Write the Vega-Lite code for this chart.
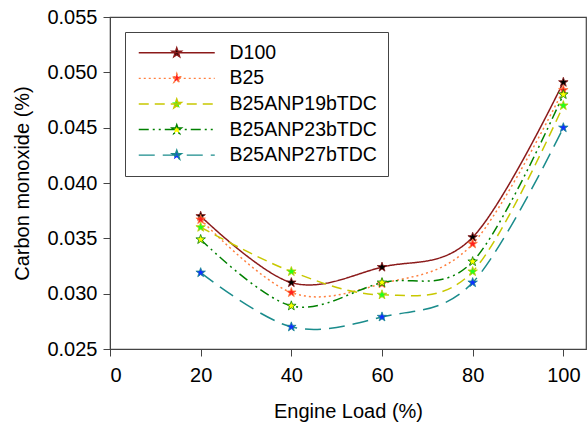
{
  "$schema": "https://vega.github.io/schema/vega-lite/v6.json",
  "width": 476,
  "height": 332,
  "autosize": "none",
  "padding": {"left": 110, "top": 17, "right": 1, "bottom": 74},
  "background": "white",
  "config": {
    "font": "Liberation Sans",
    "view": {"stroke": "#444", "strokeWidth": 1.2},
    "axis": {"grid": false, "domainColor": "#444", "tickColor": "#444", "labelColor": "black", "titleColor": "black", "labelFontSize": 20, "titleFontSize": 20, "titleFontWeight": "normal", "tickSize": 7, "labelFont": "Liberation Sans", "titleFont": "Liberation Sans"}
  },
  "data": {
    "values": [
      {"series": "D100", "load": 20, "co": 0.0370},
      {"series": "D100", "load": 40, "co": 0.0310},
      {"series": "D100", "load": 60, "co": 0.0324},
      {"series": "D100", "load": 80, "co": 0.0351},
      {"series": "D100", "load": 100, "co": 0.0491},
      {"series": "B25", "load": 20, "co": 0.0367},
      {"series": "B25", "load": 40, "co": 0.0301},
      {"series": "B25", "load": 60, "co": 0.0309},
      {"series": "B25", "load": 80, "co": 0.0345},
      {"series": "B25", "load": 100, "co": 0.0484},
      {"series": "B25ANP19bTDC", "load": 20, "co": 0.0360},
      {"series": "B25ANP19bTDC", "load": 40, "co": 0.0320},
      {"series": "B25ANP19bTDC", "load": 60, "co": 0.0299},
      {"series": "B25ANP19bTDC", "load": 80, "co": 0.0320},
      {"series": "B25ANP19bTDC", "load": 100, "co": 0.0470},
      {"series": "B25ANP23bTDC", "load": 20, "co": 0.0349},
      {"series": "B25ANP23bTDC", "load": 40, "co": 0.0289},
      {"series": "B25ANP23bTDC", "load": 60, "co": 0.0310},
      {"series": "B25ANP23bTDC", "load": 80, "co": 0.0329},
      {"series": "B25ANP23bTDC", "load": 100, "co": 0.0480},
      {"series": "B25ANP27bTDC", "load": 20, "co": 0.0319},
      {"series": "B25ANP27bTDC", "load": 40, "co": 0.0270},
      {"series": "B25ANP27bTDC", "load": 60, "co": 0.0279},
      {"series": "B25ANP27bTDC", "load": 80, "co": 0.0310},
      {"series": "B25ANP27bTDC", "load": 100, "co": 0.0450}
    ]
  },
  "encoding": {
    "x": {"field": "load", "type": "quantitative", "title": "Engine Load (%)",
      "scale": {"domain": [0, 105], "nice": false},
      "axis": {"values": [0, 20, 40, 60, 80, 100], "labelPadding": 9, "titlePadding": 16}},
    "y": {"field": "co", "type": "quantitative", "title": "Carbon monoxide (%)",
      "scale": {"domain": [0.025, 0.055], "nice": false, "zero": false},
      "axis": {"values": [0.025, 0.030, 0.035, 0.040, 0.045, 0.050, 0.055], "format": ".3f", "labelPadding": 6, "titlePadding": 14}}
  },
  "layer": [
    {
      "mark": {"type": "line", "interpolate": "cardinal", "strokeWidth": 1.5},
      "encoding": {
        "stroke": {"field": "series", "type": "nominal",
          "scale": {"domain": ["D100", "B25", "B25ANP19bTDC", "B25ANP23bTDC", "B25ANP27bTDC"], "range": ["#8B1A1A", "#FF8040", "#C8C800", "#008000", "#1A8C8C"]},
          "legend": {"title": null, "orient": "top-left", "offset": 15, "padding": 11, "strokeColor": "#444", "fillColor": "white", "labelFontSize": 19.5, "labelFont": "Liberation Sans", "labelColor": "black", "rowPadding": 4.6, "symbolType": "M-7.6,0L7.6,0M0,-1L0.235,-0.324L0.951,-0.309L0.38,0.124L0.588,0.809L0,0.4L-0.588,0.809L-0.38,0.124L-0.951,-0.309L-0.235,-0.324Z", "symbolSize": 100, "symbolStrokeWidth": 1.4, "symbolOffset": 31, "labelOffset": 43}},
        "strokeDash": {"field": "series", "type": "nominal",
          "scale": {"domain": ["D100", "B25", "B25ANP19bTDC", "B25ANP23bTDC", "B25ANP27bTDC"], "range": [[1, 0], [2, 3], [10, 6], [10, 4, 2, 4, 2, 4], [16, 8]]},
          "legend": {"title": null, "orient": "top-left", "offset": 15, "padding": 11, "strokeColor": "#444", "fillColor": "white", "labelFontSize": 19.5, "labelFont": "Liberation Sans", "labelColor": "black", "rowPadding": 4.6, "symbolType": "M-7.6,0L7.6,0M0,-1L0.235,-0.324L0.951,-0.309L0.38,0.124L0.588,0.809L0,0.4L-0.588,0.809L-0.38,0.124L-0.951,-0.309L-0.235,-0.324Z", "symbolSize": 100, "symbolStrokeWidth": 1.4, "symbolOffset": 31, "labelOffset": 43}},
        "detail": {"field": "series"}
      }
    },
    {
      "mark": {"type": "point", "filled": true, "size": 100, "strokeWidth": 0.8, "opacity": 1,
        "shape": "M0,-1L0.235,-0.324L0.951,-0.309L0.38,0.124L0.588,0.809L0,0.4L-0.588,0.809L-0.38,0.124L-0.951,-0.309L-0.235,-0.324Z"},
      "encoding": {
        "fill": {"field": "series", "type": "nominal",
          "scale": {"domain": ["D100", "B25", "B25ANP19bTDC", "B25ANP23bTDC", "B25ANP27bTDC"], "range": ["#000000", "#FF2020", "#20FF20", "#FFFF00", "#1030FF"]},
          "legend": {"title": null, "orient": "top-left", "offset": 15, "padding": 11, "strokeColor": "#444", "fillColor": "white", "labelFontSize": 19.5, "labelFont": "Liberation Sans", "labelColor": "black", "rowPadding": 4.6, "symbolType": "M-7.6,0L7.6,0M0,-1L0.235,-0.324L0.951,-0.309L0.38,0.124L0.588,0.809L0,0.4L-0.588,0.809L-0.38,0.124L-0.951,-0.309L-0.235,-0.324Z", "symbolSize": 100, "symbolStrokeWidth": 1.4, "symbolOffset": 31, "labelOffset": 43}},
        "stroke": {"field": "series", "type": "nominal"}
      }
    }
  ]
}
